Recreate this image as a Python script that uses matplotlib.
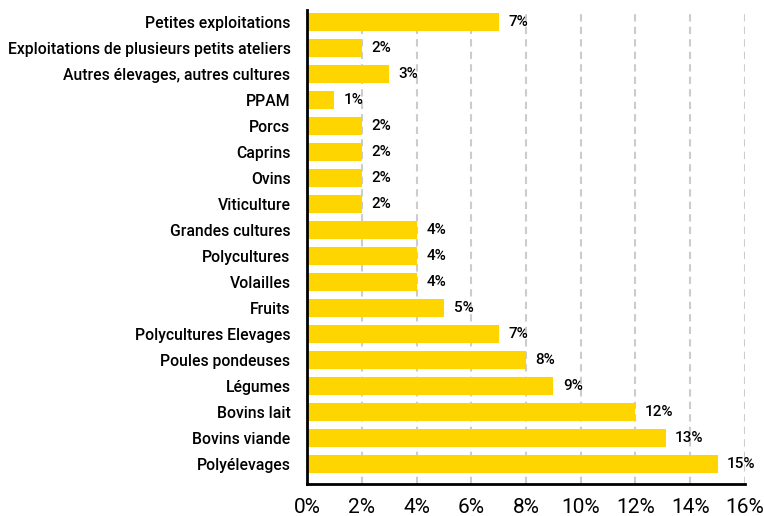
import matplotlib.pyplot as plt

categories = [
    "Petites exploitations",
    "Exploitations de plusieurs petits ateliers",
    "Autres élevages, autres cultures",
    "PPAM",
    "Porcs",
    "Caprins",
    "Ovins",
    "Viticulture",
    "Grandes cultures",
    "Polycultures",
    "Volailles",
    "Fruits",
    "Polycultures Elevages",
    "Poules pondeuses",
    "Légumes",
    "Bovins lait",
    "Bovins viande",
    "Polyélevages",
]
values = [7.0, 2.0, 3.0, 1.0, 2.0, 2.0, 2.0, 2.0, 4.0, 4.0, 4.0, 5.0, 7.0, 8.0, 9.0, 12.0, 13.1, 15.0]
labels = ["7%", "2%", "3%", "1%", "2%", "2%", "2%", "2%", "4%", "4%", "4%", "5%", "7%", "8%", "9%", "12%", "13%", "15%"]
xticks = [0, 2, 4, 6, 8, 10, 12, 14, 16]

plt.rcParams['font.family'] = ['Roboto', 'DejaVu Sans']

fig = plt.figure(figsize=(7.64, 5.16), dpi=100)
ax = fig.add_axes([0.402, 0.062, 0.573, 0.919])

y = list(range(len(categories)))
ax.barh(y, values, height=0.7, color="#FFD500", zorder=2)
for yi, v, lab in zip(y, values, labels):
    ax.text(v + 0.35, yi, lab, va="center", ha="left", fontsize=11, fontweight="medium", zorder=3)

ax.set_yticks(y)
ax.set_yticklabels(categories, fontsize=11.3, fontweight="medium")
ax.set_xticks(xticks)
ax.set_xticklabels([f"{t}%" for t in xticks], fontsize=15)
ax.set_xlim(0, 16)
ax.set_ylim(17.77, -0.46)

ax.xaxis.grid(True, color="#cccccc", linewidth=1.5, linestyle=(0, (3.5, 2.5)), zorder=1)
ax.tick_params(axis="both", length=0)
ax.tick_params(axis="x", pad=10)
ax.tick_params(axis="y", pad=12)
for s in ["top", "right"]:
    ax.spines[s].set_visible(False)
ax.spines["left"].set_linewidth(2)
ax.spines["bottom"].set_linewidth(2)

fig.savefig("out.png", dpi=100)
